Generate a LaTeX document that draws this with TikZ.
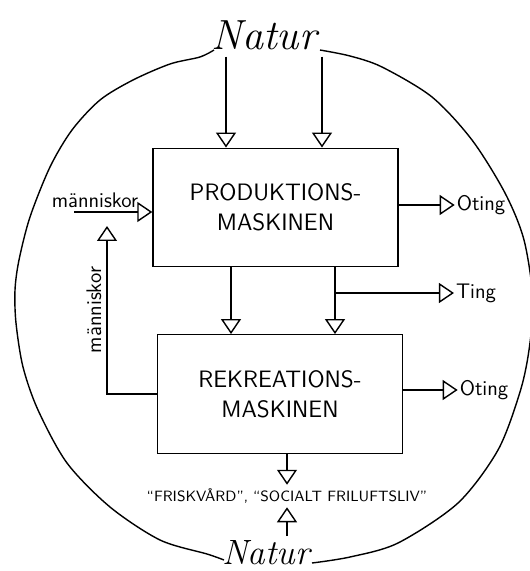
\documentclass[tikz,border=0pt]{standalone}
\usepackage{fontspec}
\usetikzlibrary{arrows.meta,positioning}

\begin{document}
\begin{tikzpicture}[x=0.02cm,y=-0.02cm,
        maskin/.style = {draw, thick, minimum width=4.9cm, minimum height=2.37cm, align=center, font=\sffamily\fontsize{13.5}{17}\selectfont},
        flow/.style = {thick, -{Triangle[open, length=3mm, width=4mm]}},
        ord/.style = {font=\sffamily\large, inner sep=1pt},
        natur/.style = {font=\itshape\fontsize{24}{26}\selectfont, anchor=base},]
        \useasboundingbox (0,0) rectangle (530,571);

        \node[natur] (natTop) at (264,50) {Natur};
        \node[natur, font=\itshape\fontsize{20}{22}\selectfont] (natBot) at (266,564) {Natur};

        \node[maskin] (prod) at (275.5,207.5) {PRODUKTIONS-\\MASKINEN};
        \node[maskin] (rekr) at (280,394) {REKREATIONS-\\MASKINEN};

        \node[ord] (oting1) at (481,205) {Oting};
        \node[ord] (ting) at (476,293) {Ting};
        \node[ord] (oting2) at (484,390) {Oting};
        \node[ord] (mLabel) at (95,200) {människor};
        \node[ord, rotate=90] (mLabelV) at (94,310) {människor};
        \node[font=\sffamily\fontsize{8.5}{10}\selectfont, inner sep=2pt] (frisk) at (287,496) {``FRISKVÅRD'', ``SOCIALT FRILUFTSLIV''};

        \coordinate (mStart) at (74,212);
        \coordinate (mTip) at (107,226);
        \coordinate (natFoot) at (287,536);

        % natur in
        \draw[flow] ([xshift=-0.99cm]prod.north |- natTop.south) -- ([xshift=-0.99cm]prod.north);
        \draw[flow] ([xshift=0.93cm]prod.north |- natTop.south) -- ([xshift=0.93cm]prod.north);

        % between the machines
        \draw[flow] ([xshift=-0.89cm]prod.south) -- ([xshift=-0.89cm]prod.south |- rekr.north);
        \draw[flow] ([xshift=1.19cm]prod.south) -- ([xshift=1.19cm]prod.south |- rekr.north);
        \draw[flow] ([xshift=1.19cm]prod.south |- ting.west) -- (ting.west);

        \draw[flow] (prod.east |- oting1.west) -- (oting1.west);
        \draw[flow] (rekr.east |- oting2.west) -- (oting2.west);

        % people
        \draw[flow] (mStart) -- (prod.west |- mStart);
        \draw[flow] (rekr.west) -| (mTip);

        \draw[flow] (frisk.north |- rekr.south) -- (frisk.north);
        \draw[flow] (natFoot) -- (frisk.south);

        % the world
        \draw[thick] plot[smooth] coordinates {(214,50) (200,57) (170,64) (133,80) (100,100) (72,130) (50,167) (30,217) (19,260) (15,290) (16,323) (23,367) (38,410) (67,463) (110,507) (160,540) (207,554) (224,560)};
        \draw[thick] plot[smooth] coordinates {(320,50) (350,56) (382,67) (432,97) (472,140) (505,193) (524,240) (533,300) (529,350) (520,392) (498,450) (458,503) (398,543) (350,557) (312,563)};
    \end{tikzpicture}
\end{document}
